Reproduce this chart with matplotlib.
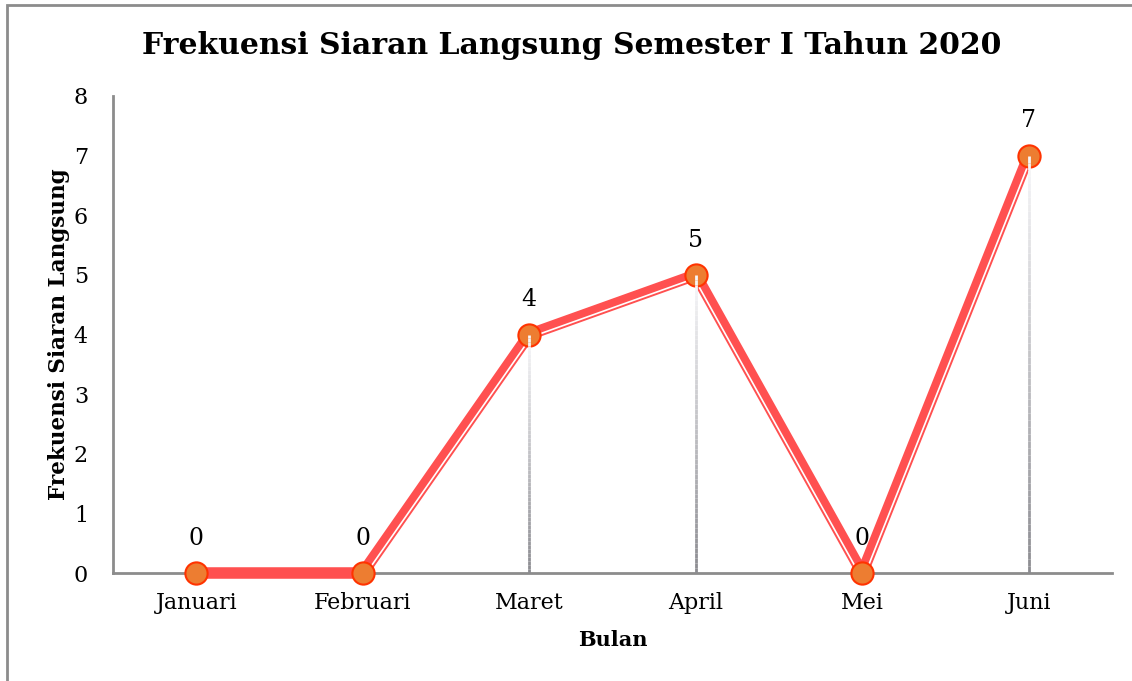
import matplotlib
import matplotlib.pyplot as plt
import numpy as np
from matplotlib.collections import LineCollection
from matplotlib.patches import Rectangle
from matplotlib.transforms import ScaledTranslation

matplotlib.use("Agg")

months = ["Januari", "Februari", "Maret", "April", "Mei", "Juni"]
frekuensi = [0, 0, 4, 5, 0, 7]
y_ticks = [0, 1, 2, 3, 4, 5, 6, 7, 8]

W, H = 1132, 681
fig = plt.figure(figsize=(W / 100, H / 100), dpi=100)
ax = fig.add_axes([113 / W, 1 - 573 / H, (1112 - 113) / W, (573 - 96) / H])

x = np.arange(len(months))
y = np.array(frekuensi)

ax.set_xlim(-0.5, len(months) - 0.5)
ax.set_ylim(0, 8)

# drop lines, fading from white at the point to gray at the axis
for xi, yi in zip(x, y):
    if yi <= 0:
        continue
    n = 60
    ys = np.linspace(yi, 0, n + 1)
    segs = [[(xi, ys[i]), (xi, ys[i + 1])] for i in range(n)]
    t = np.linspace(0, 1, n)
    cols = [(0.97 - 0.42 * v, 0.97 - 0.42 * v, 0.98 - 0.41 * v) for v in t]
    ax.add_collection(LineCollection(segs, colors=cols, linewidths=2, zorder=5))

# thick-thin compound line: red band, thin white stripe on the right-hand side
ax.plot(x, y, color="#FF5050", lw=8.3, solid_capstyle="round", solid_joinstyle="round",
        zorder=3, clip_on=False)
pts = ax.transData.transform(np.column_stack([x, y]))
for i in range(len(x) - 1):
    d = pts[i + 1] - pts[i]
    d = d / np.hypot(*d)
    nx, ny = d[1] * 3.0, -d[0] * 3.0
    shift = ax.transData + ScaledTranslation(nx / 100, ny / 100, fig.dpi_scale_trans)
    ax.plot(x[i:i + 2], y[i:i + 2], color="white", lw=1.2, zorder=3.5, transform=shift)

ax.plot(x, y, linestyle="none", marker="o", markersize=16, markerfacecolor="#ED7D31",
        markeredgecolor="#FF3300", markeredgewidth=1.5, zorder=4, clip_on=False)

for xi, yi in zip(x, y):
    ax.annotate(str(yi), (xi, yi), xytext=(0, 25), textcoords="offset points",
                ha="center", va="center", fontsize=17, family="DejaVu Serif")

ax.set_xticks(x)
ax.set_xticklabels(months, family="DejaVu Serif", fontsize=16)
ax.set_yticks(y_ticks)
ax.set_yticklabels([str(v) for v in y_ticks], family="DejaVu Serif", fontsize=16)
ax.tick_params(length=0)
ax.tick_params(axis="x", pad=14)
ax.tick_params(axis="y", pad=18)

for s in ["top", "right"]:
    ax.spines[s].set_visible(False)
for s in ["left", "bottom"]:
    ax.spines[s].set_color("#8C8C8C")
    ax.spines[s].set_linewidth(2)

ax.set_xlabel("Bulan", family="DejaVu Serif", fontweight="bold", fontsize=15, labelpad=11)
ax.set_ylabel("Frekuensi Siaran Langsung", family="DejaVu Serif", fontweight="bold",
              fontsize=15.5, labelpad=3)

fig.text(572 / W, 1 - 45 / H, "Frekuensi Siaran Langsung Semester I Tahun 2020",
         ha="center", va="center", family="DejaVu Serif", fontweight="bold", fontsize=21.5)

fig.patches.append(Rectangle((7 / W, -0.1), 1.2, 1 - 5 / H + 0.1, transform=fig.transFigure,
                             fill=False, edgecolor="#8C8C8C", linewidth=2))

fig.savefig("out.png", dpi=100)
